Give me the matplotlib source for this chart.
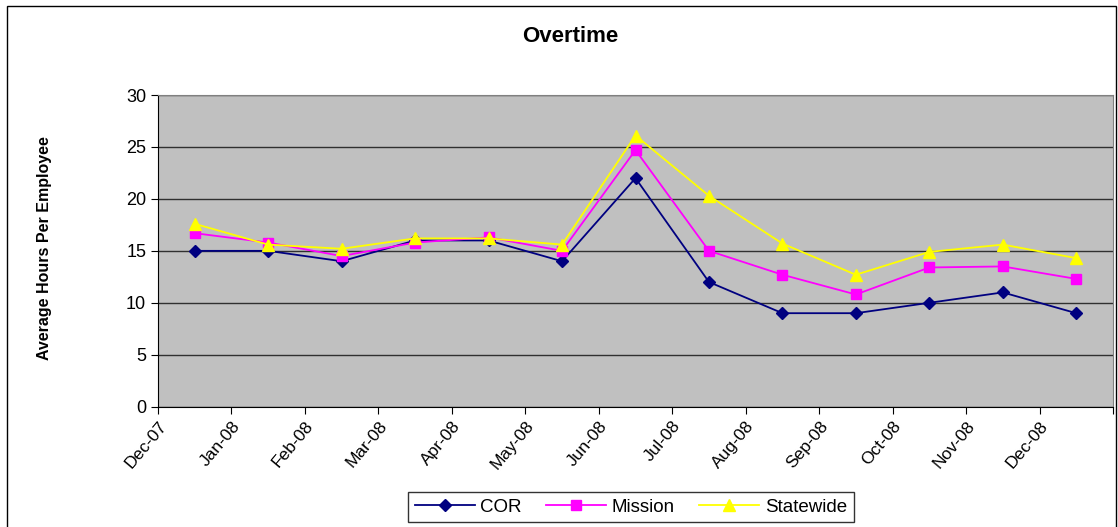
import matplotlib.pyplot as plt
import numpy as np
from matplotlib.patches import Rectangle

plt.rcParams['font.family'] = ['Liberation Sans', 'DejaVu Sans']

months = ["Dec-07", "Jan-08", "Feb-08", "Mar-08", "Apr-08", "May-08", "Jun-08",
          "Jul-08", "Aug-08", "Sep-08", "Oct-08", "Nov-08", "Dec-08"]
cor = [15, 15, 14, 16, 16, 14, 22, 12, 9, 9, 10, 11, 9]
mission = [16.7, 15.8, 14.5, 15.8, 16.3, 15.0, 24.7, 15.0, 12.7, 10.8, 13.4, 13.5, 12.3]
statewide = [17.6, 15.6, 15.2, 16.2, 16.2, 15.6, 26.1, 20.3, 15.7, 12.7, 14.9, 15.6, 14.3]

fig = plt.figure(figsize=(11.18, 5.27), dpi=100)
ax = fig.add_axes([158/1118, 1-406.7/527, (1113-158)/1118, (406.7-95)/527])
ax.set_facecolor('#C0C0C0')

x = np.arange(len(months)) + 0.5
ax.plot(x, cor, color='#000080', marker='D', markersize=6, lw=1.3, label='COR')
ax.plot(x, mission, color='#FF00FF', marker='s', markersize=7, lw=1.3, label='Mission')
ax.plot(x, statewide, color='#FFFF00', marker='^', markersize=9, lw=1.3, label='Statewide')

ax.set_xlim(0, len(months))
ax.set_ylim(0, 30)
ax.set_yticks(range(0, 31, 5))
ax.set_xticks(range(len(months) + 1))
ax.set_xticklabels(months + [""], rotation=50, ha='right', rotation_mode='anchor', fontsize=12.5)
ax.tick_params(axis='y', labelsize=13, direction='out', length=5, color='black')
ax.tick_params(axis='x', direction='out', length=5, color='black')
ax.grid(axis='y', color='#303030', lw=1)
ax.set_axisbelow(True)
for s in ['top', 'right']:
    ax.spines[s].set_color('#808080')
for s in ['left', 'bottom']:
    ax.spines[s].set_color('black')

fig.text(570/1118, 1-37/527, "Overtime", fontsize=16, fontweight='bold', ha='center', va='center')
fig.text(45/1118, 1-248/527, "Average Hours Per Employee", rotation=90, fontsize=11.5,
         fontweight='bold', ha='center', va='center')

leg = ax.legend(loc='center', bbox_to_anchor=((631-158)/955, (406.7-507)/311.7), ncol=3,
                fontsize=13.5, frameon=True, fancybox=False, edgecolor='black',
                borderpad=0.35, handlelength=3.2, columnspacing=1.3, handletextpad=0.3)
leg.get_frame().set_linewidth(1)

fig.patches.append(Rectangle((7/1118, -0.1), (1116-7)/1118, 1.1-6/527, transform=fig.transFigure,
                             fill=False, edgecolor='black', lw=1))

fig.savefig("out.png", dpi=100)
